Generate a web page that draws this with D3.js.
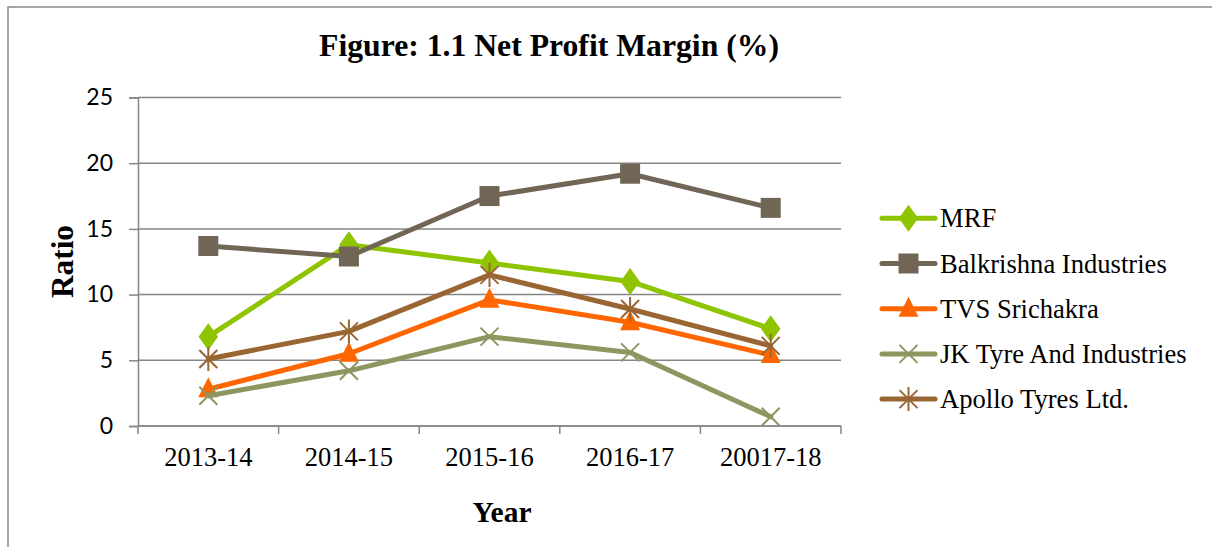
<!DOCTYPE html>
<html>
<head>
<meta charset="utf-8">
<script src="https://cdn.jsdelivr.net/npm/d3@7"></script>
<style>
  body { margin: 0; background: #fff; }
  svg { display: block; }
</style>
</head>
<body>
<div id="chart"></div>
<script>
// data
const years = ["2013-14", "2014-15", "2015-16", "2016-17", "20017-18"];
const mrf = [6.8, 13.8, 12.4, 11.0, 7.4];
const balkrishna = [13.7, 12.9, 17.5, 19.2, 16.6];
const tvs = [2.8, 5.5, 9.6, 7.9, 5.4];
const jkTyre = [2.3, 4.2, 6.8, 5.6, 0.7];
const apollo = [5.1, 7.2, 11.5, 8.9, 6.1];
const yTicks = [0, 5, 10, 15, 20, 25];

const series = [
  { name: "MRF", values: mrf, color: "#8fc400", marker: "diamond" },
  { name: "Balkrishna Industries", values: balkrishna, color: "#716656", marker: "square" },
  { name: "TVS Srichakra", values: tvs, color: "#ff6600", marker: "triangle" },
  { name: "JK Tyre And Industries", values: jkTyre, color: "#8e9660", marker: "x" },
  { name: "Apollo Tyres Ltd.", values: apollo, color: "#996633", marker: "star" }
];

const serif = "'Liberation Serif', 'Times New Roman', serif";
const width = 1212, height = 547;
const plot = { left: 138, right: 841, top: 97.5, bottom: 426 };

const svg = d3.select("#chart").append("svg")
  .attr("width", width)
  .attr("height", height);

// outer frame (only top + left visible in the crop)
svg.append("rect")
  .attr("x", 8).attr("y", 7)
  .attr("width", 1300).attr("height", 600)
  .attr("fill", "none")
  .attr("stroke", "#898989")
  .attr("stroke-width", 1.5);

const x = d3.scaleBand().domain(years).range([plot.left, plot.right]);
const y = d3.scaleLinear().domain([0, 25]).range([plot.bottom, plot.top]);

// gridlines
svg.append("g")
  .selectAll("line")
  .data(yTicks)
  .join("line")
  .attr("x1", plot.left).attr("x2", plot.right)
  .attr("y1", d => y(d)).attr("y2", d => y(d))
  .attr("stroke", "#868686")
  .attr("stroke-width", 1.5);

// y axis
const yAxis = svg.append("g")
  .attr("transform", `translate(${plot.left},0)`)
  .call(d3.axisLeft(y).tickValues(yTicks).tickSize(9).tickPadding(16));
yAxis.select(".domain").attr("stroke", "#868686").attr("stroke-width", 1.5);
yAxis.selectAll(".tick line").attr("stroke", "#868686").attr("stroke-width", 1.5);
yAxis.selectAll("text")
  .attr("fill", "#000")
  .style("font-family", "Lato, 'Open Sans', sans-serif")
  .style("font-size", "23px");

// x axis: ticks on category boundaries
const xAxis = svg.append("g")
  .attr("transform", `translate(0,${plot.bottom})`);
xAxis.append("line")
  .attr("x1", plot.left).attr("x2", plot.right)
  .attr("stroke", "#868686").attr("stroke-width", 1.5);
const bounds = years.map(d => x(d)).concat([x(years[years.length - 1]) + x.bandwidth()]);
xAxis.selectAll("line.tk")
  .data(bounds)
  .join("line")
  .attr("class", "tk")
  .attr("x1", d => d).attr("x2", d => d)
  .attr("y1", 0).attr("y2", 8)
  .attr("stroke", "#868686").attr("stroke-width", 1.5);
xAxis.selectAll("text")
  .data(years)
  .join("text")
  .attr("x", d => x(d) + x.bandwidth() / 2)
  .attr("y", 40)
  .attr("text-anchor", "middle")
  .style("font-family", serif)
  .style("font-size", "26.5px")
  .text(d => d);

// titles
svg.append("text")
  .attr("x", 549).attr("y", 56)
  .attr("text-anchor", "middle")
  .style("font-family", serif)
  .style("font-weight", "bold")
  .style("font-size", "31.7px")
  .text("Figure: 1.1 Net Profit Margin (%)");

svg.append("text")
  .attr("transform", "translate(73,261.5) rotate(-90)")
  .attr("text-anchor", "middle")
  .style("font-family", serif)
  .style("font-weight", "bold")
  .style("font-size", "31.3px")
  .text("Ratio");

svg.append("text")
  .attr("x", 502).attr("y", 522)
  .attr("text-anchor", "middle")
  .style("font-family", serif)
  .style("font-weight", "bold")
  .style("font-size", "29.5px")
  .text("Year");

// markers
function drawMarker(g, type, color, cx, cy) {
  if (type === "diamond") {
    g.append("path")
      .attr("d", d3.symbol(d3.symbolDiamond, 210)())
      .attr("transform", `translate(${cx},${cy}) scale(1.25,1)`)
      .attr("fill", color);
  } else if (type === "square") {
    g.append("rect")
      .attr("x", cx - 10).attr("y", cy - 10)
      .attr("width", 20).attr("height", 20)
      .attr("fill", color);
  } else if (type === "triangle") {
    g.append("path")
      .attr("d", `M${cx},${cy - 12}L${cx + 10},${cy + 8}L${cx - 10},${cy + 8}Z`)
      .attr("fill", color);
  } else if (type === "x") {
    const r = 9;
    g.append("path")
      .attr("d", `M${cx - r},${cy - r}L${cx + r},${cy + r}M${cx - r},${cy + r}L${cx + r},${cy - r}`)
      .attr("stroke", color).attr("stroke-width", 2);
  } else if (type === "star") {
    const r = 9;
    g.append("path")
      .attr("d", `M${cx - r},${cy - r}L${cx + r},${cy + r}M${cx - r},${cy + r}L${cx + r},${cy - r}M${cx},${cy - r - 3}L${cx},${cy + r + 3}`)
      .attr("stroke", color).attr("stroke-width", 2);
  }
}

const line = d3.line()
  .x((d, i) => x(years[i]) + x.bandwidth() / 2)
  .y(d => y(d));

series.forEach(s => {
  const g = svg.append("g");
  g.append("path")
    .datum(s.values)
    .attr("d", line)
    .attr("fill", "none")
    .attr("stroke", s.color)
    .attr("stroke-width", 5)
    .attr("stroke-linejoin", "round")
    .attr("stroke-linecap", "round");
  s.values.forEach((v, i) => {
    drawMarker(g, s.marker, s.color, x(years[i]) + x.bandwidth() / 2, y(v));
  });
});

// legend
const legend = svg.append("g");
series.forEach((s, i) => {
  const ly = 218.3 + i * 45.2;
  const g = legend.append("g");
  g.append("line")
    .attr("x1", 882).attr("x2", 935)
    .attr("y1", ly).attr("y2", ly)
    .attr("stroke", s.color).attr("stroke-width", 5)
    .attr("stroke-linecap", "round");
  drawMarker(g, s.marker, s.color, 908.5, ly);
  g.append("text")
    .attr("x", 940).attr("y", ly + 9)
    .style("font-family", serif)
    .style("font-size", "26.6px")
    .text(s.name);
});
</script>
</body>
</html>
